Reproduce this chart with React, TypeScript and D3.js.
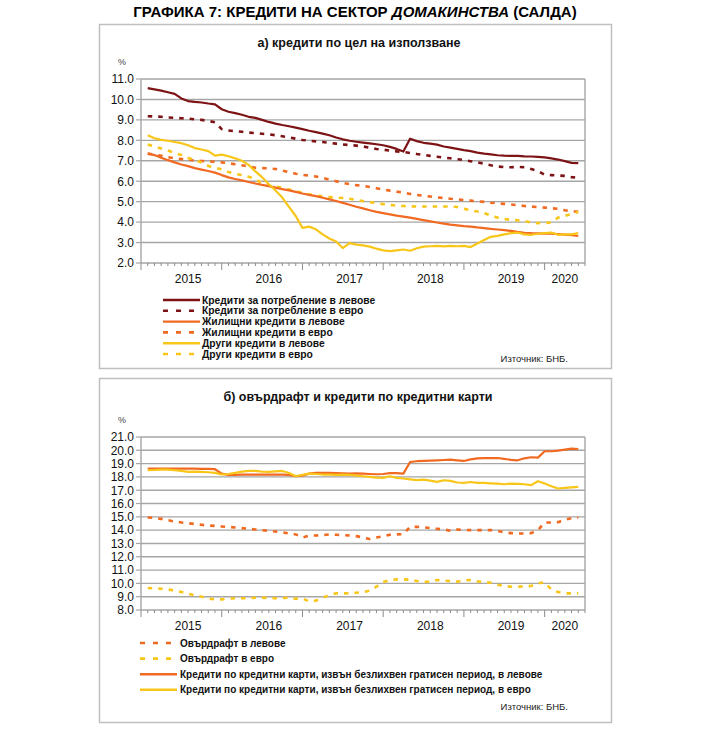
import React from "react";
import * as d3 from "d3";

const years = ["2015", "2016", "2017", "2018", "2019", "2020"];
const monthsOnAxis = 66;

const consumerBgn = [10.55, 10.49, 10.43, 10.35, 10.27, 10.05, 9.92, 9.88, 9.85, 9.80, 9.76, 9.52, 9.40, 9.33, 9.25, 9.15, 9.10, 9.00, 8.90, 8.82, 8.75, 8.69, 8.62, 8.55, 8.47, 8.40, 8.33, 8.25, 8.14, 8.05, 7.98, 7.93, 7.89, 7.85, 7.81, 7.76, 7.68, 7.58, 7.45, 8.08, 7.96, 7.88, 7.84, 7.79, 7.70, 7.64, 7.58, 7.52, 7.47, 7.40, 7.35, 7.31, 7.27, 7.25, 7.24, 7.24, 7.22, 7.21, 7.19, 7.17, 7.12, 7.06, 6.98, 6.90, 6.89];
const consumerEur = [9.18, 9.17, 9.15, 9.12, 9.10, 9.08, 9.06, 9.03, 9.00, 8.95, 8.88, 8.55, 8.48, 8.45, 8.42, 8.38, 8.35, 8.32, 8.29, 8.25, 8.20, 8.15, 8.08, 8.02, 7.98, 7.95, 7.92, 7.88, 7.84, 7.80, 7.77, 7.74, 7.70, 7.64, 7.58, 7.54, 7.50, 7.46, 7.43, 7.38, 7.33, 7.29, 7.24, 7.20, 7.16, 7.12, 7.08, 7.04, 6.98, 6.92, 6.86, 6.78, 6.72, 6.69, 6.68, 6.70, 6.68, 6.60, 6.50, 6.32, 6.30, 6.28, 6.26, 6.20, 6.17];
const housingBgn = [7.35, 7.28, 7.15, 7.03, 6.92, 6.82, 6.74, 6.64, 6.57, 6.50, 6.42, 6.30, 6.19, 6.11, 6.04, 5.96, 5.89, 5.82, 5.76, 5.69, 5.61, 5.55, 5.48, 5.40, 5.33, 5.27, 5.19, 5.11, 5.03, 4.94, 4.85, 4.75, 4.67, 4.58, 4.50, 4.44, 4.38, 4.32, 4.27, 4.22, 4.16, 4.10, 4.04, 3.98, 3.93, 3.88, 3.84, 3.80, 3.78, 3.74, 3.71, 3.67, 3.64, 3.61, 3.57, 3.52, 3.48, 3.46, 3.45, 3.44, 3.43, 3.41, 3.39, 3.36, 3.32];
const housingEur = [7.35, 7.30, 7.25, 7.18, 7.12, 7.08, 7.04, 7.01, 6.99, 6.97, 6.95, 6.92, 6.88, 6.83, 6.78, 6.72, 6.66, 6.64, 6.63, 6.60, 6.52, 6.45, 6.37, 6.31, 6.27, 6.23, 6.16, 6.08, 6.00, 5.92, 5.86, 5.81, 5.77, 5.72, 5.66, 5.59, 5.54, 5.49, 5.45, 5.38, 5.33, 5.29, 5.25, 5.21, 5.18, 5.14, 5.11, 5.08, 5.05, 5.02, 4.99, 4.95, 4.92, 4.89, 4.86, 4.83, 4.79, 4.76, 4.73, 4.71, 4.68, 4.65, 4.58, 4.52, 4.52];
const otherBgn = [8.25, 8.10, 8.02, 7.98, 7.92, 7.86, 7.76, 7.62, 7.55, 7.47, 7.25, 7.30, 7.22, 7.12, 7.00, 6.80, 6.48, 6.20, 5.85, 5.55, 5.20, 4.75, 4.30, 3.72, 3.78, 3.65, 3.40, 3.20, 3.05, 2.73, 2.97, 2.90, 2.86, 2.80, 2.70, 2.62, 2.58, 2.62, 2.66, 2.60, 2.72, 2.80, 2.82, 2.84, 2.81, 2.84, 2.82, 2.84, 2.78, 2.95, 3.12, 3.28, 3.33, 3.40, 3.46, 3.49, 3.40, 3.38, 3.43, 3.46, 3.49, 3.38, 3.40, 3.40, 3.46];
const otherEur = [7.80, 7.70, 7.60, 7.50, 7.38, 7.28, 7.14, 7.04, 6.92, 6.75, 6.66, 6.58, 6.45, 6.36, 6.30, 6.22, 6.10, 5.90, 5.80, 5.74, 5.68, 5.60, 5.52, 5.43, 5.36, 5.30, 5.26, 5.22, 5.20, 5.18, 5.14, 5.09, 5.03, 4.98, 4.93, 4.88, 4.84, 4.81, 4.79, 4.77, 4.76, 4.76, 4.77, 4.76, 4.76, 4.76, 4.74, 4.65, 4.58, 4.52, 4.44, 4.32, 4.22, 4.15, 4.11, 4.09, 4.05, 3.98, 3.95, 3.96, 3.98, 4.22, 4.30, 4.40, 4.50];

const overdraftBgn = [14.95, 14.92, 14.85, 14.75, 14.65, 14.58, 14.52, 14.46, 14.40, 14.35, 14.32, 14.28, 14.24, 14.20, 14.15, 14.10, 14.05, 14.00, 13.95, 13.90, 13.83, 13.76, 13.68, 13.45, 13.58, 13.60, 13.62, 13.68, 13.65, 13.63, 13.60, 13.55, 13.45, 13.33, 13.45, 13.55, 13.66, 13.68, 13.70, 14.25, 14.25, 14.22, 14.15, 14.10, 14.05, 13.96, 14.05, 14.02, 14.00, 14.00, 14.00, 14.00, 13.95, 13.82, 13.78, 13.75, 13.75, 13.78, 14.00, 14.58, 14.58, 14.60, 14.78, 14.90, 14.95];
const overdraftEur = [9.65, 9.63, 9.60, 9.55, 9.45, 9.35, 9.22, 9.10, 9.00, 8.85, 8.80, 8.80, 8.85, 8.88, 8.88, 8.88, 8.92, 8.93, 8.90, 8.88, 8.90, 8.92, 8.85, 8.86, 8.65, 8.70, 8.93, 9.10, 9.25, 9.25, 9.26, 9.30, 9.35, 9.45, 9.75, 10.10, 10.25, 10.30, 10.30, 10.28, 10.18, 10.10, 10.15, 10.25, 10.20, 10.18, 10.13, 10.22, 10.25, 10.15, 10.10, 10.05, 9.90, 9.80, 9.75, 9.75, 9.78, 9.80, 10.00, 10.08, 9.55, 9.35, 9.25, 9.25, 9.25];
const cardsBgn = [18.63, 18.63, 18.63, 18.63, 18.63, 18.62, 18.62, 18.62, 18.60, 18.60, 18.58, 18.25, 18.15, 18.15, 18.18, 18.18, 18.18, 18.18, 18.18, 18.18, 18.18, 18.15, 18.05, 18.10, 18.25, 18.30, 18.30, 18.30, 18.28, 18.26, 18.25, 18.27, 18.25, 18.22, 18.20, 18.22, 18.28, 18.28, 18.25, 19.12, 19.18, 19.20, 19.22, 19.25, 19.27, 19.30, 19.25, 19.20, 19.32, 19.40, 19.42, 19.42, 19.42, 19.35, 19.28, 19.25, 19.40, 19.48, 19.45, 19.93, 19.93, 19.98, 20.05, 20.13, 20.10];
const cardsEur = [18.50, 18.52, 18.55, 18.55, 18.50, 18.45, 18.38, 18.40, 18.38, 18.35, 18.30, 18.18, 18.22, 18.30, 18.40, 18.45, 18.45, 18.40, 18.38, 18.42, 18.45, 18.30, 18.05, 18.15, 18.25, 18.22, 18.18, 18.18, 18.15, 18.18, 18.15, 18.10, 18.05, 18.00, 17.95, 17.93, 18.05, 17.93, 17.88, 17.82, 17.76, 17.80, 17.72, 17.63, 17.75, 17.70, 17.58, 17.55, 17.62, 17.55, 17.55, 17.52, 17.50, 17.45, 17.50, 17.48, 17.45, 17.38, 17.68, 17.50, 17.30, 17.13, 17.18, 17.22, 17.25];

const chartTitle = "ГРАФИКА 7: КРЕДИТИ НА СЕКТОР ";
const chartTitleItalic = "ДОМАКИНСТВА";
const chartTitleEnd = " (САЛДА)";
const titleA = "а) кредити по цел на използване";
const titleB = "б) овърдрафт и кредити по кредитни карти";
const sourceText = "Източник: БНБ.";

const DARK = "#7d1315";
const ORANGE = "#f06a22";
const YELLOW = "#f8c619";

type Series = { name: string; values: number[]; color: string; dashed: boolean };

const seriesA: Series[] = [
  { name: "Кредити за потребление в левове", values: consumerBgn, color: DARK, dashed: false },
  { name: "Кредити за потребление в евро", values: consumerEur, color: DARK, dashed: true },
  { name: "Жилищни кредити в левове", values: housingBgn, color: ORANGE, dashed: false },
  { name: "Жилищни кредити в евро", values: housingEur, color: ORANGE, dashed: true },
  { name: "Други кредити в левове", values: otherBgn, color: YELLOW, dashed: false },
  { name: "Други кредити в евро", values: otherEur, color: YELLOW, dashed: true },
];

const seriesB: Series[] = [
  { name: "Овърдрафт в левове", values: overdraftBgn, color: ORANGE, dashed: true },
  { name: "Овърдрафт в евро", values: overdraftEur, color: YELLOW, dashed: true },
  { name: "Кредити по кредитни карти, извън безлихвен гратисен период, в левове", values: cardsBgn, color: ORANGE, dashed: false },
  { name: "Кредити по кредитни карти, извън безлихвен гратисен период, в евро", values: cardsEur, color: YELLOW, dashed: false },
];

const FONT = "'Liberation Sans', Arial, Helvetica, sans-serif";
const GRID = "#a6a6a6";

const X0 = 141;
const X1 = 585;

type PlotProps = {
  series: Series[];
  yDomain: [number, number];
  yTop: number;
  yBottom: number;
  drawOrder: number[];
};

function Plot({ series, yDomain, yTop, yBottom, drawOrder }: PlotProps) {
  const x = d3.scaleLinear().domain([0, monthsOnAxis]).range([X0, X1]);
  const y = d3.scaleLinear().domain(yDomain).range([yBottom, yTop]);
  const yTicks = d3.range(yDomain[0], yDomain[1] + 0.001, 1);
  const line = d3
    .line<number>()
    .x((_, i) => x(i + 1))
    .y((v) => y(v));
  const minor = d3.range(0, monthsOnAxis + 1);
  return (
    <g>
      {yTicks.map((t) => (
        <g key={t}>
          <line x1={X0} x2={X1} y1={y(t)} y2={y(t)} stroke={GRID} strokeWidth={1.4} />
          <line x1={X0 - 5} x2={X0} y1={y(t)} y2={y(t)} stroke={GRID} strokeWidth={1.2} />
          <text x={X0 - 7} y={y(t)} dy="0.36em" textAnchor="end" fontSize={12} fill="#111" fontFamily={FONT}>
            {t.toFixed(1)}
          </text>
        </g>
      ))}
      <line x1={X0} x2={X0} y1={yTop} y2={yBottom} stroke={GRID} strokeWidth={1.4} />
      <line x1={X1} x2={X1} y1={yTop} y2={yBottom} stroke={GRID} strokeWidth={1.4} />
      {minor.map((m) => (
        <line
          key={m}
          x1={x(m)}
          x2={x(m)}
          y1={yBottom}
          y2={yBottom + (m % 12 === 0 ? 7 : 3)}
          stroke="#8c8c8c"
          strokeWidth={1}
        />
      ))}
      {years.map((yr, i) => {
        const start = i * 12;
        const end = Math.min(start + 12, monthsOnAxis);
        const pos = end - start === 12 ? start + 7 : (start + end) / 2;
        return (
          <text key={yr} x={x(pos)} y={yBottom + 20} textAnchor="middle" fontSize={12} fill="#111" fontFamily={FONT}>
            {yr}
          </text>
        );
      })}
      <text x={X0 - 23} y={yTop - 14} fontSize={9} fill="#444" fontFamily={FONT}>
        %
      </text>
      {drawOrder.map((k) => {
        const s = series[k];
        return (
          <path
            key={s.name}
            d={line(s.values) || ""}
            fill="none"
            stroke={s.color}
            strokeWidth={s.dashed ? 2.6 : 2.2}
            strokeDasharray={s.dashed ? "4.5,6" : undefined}
            strokeLinejoin="round"
          />
        );
      })}
    </g>
  );
}

type LegendProps = { series: Series[]; x0: number; x1: number; tx: number; y0: number; step: number; fs: number };

function Legend({ series, x0, x1, tx, y0, step, fs }: LegendProps) {
  return (
    <g>
      {series.map((s, i) => {
        const yy = y0 + i * step;
        return (
          <g key={s.name}>
            <line
              x1={x0}
              x2={x1}
              y1={yy}
              y2={yy}
              stroke={s.color}
              strokeWidth={s.dashed ? 2.6 : 2.4}
              strokeDasharray={s.dashed ? "5,8" : undefined}
            />
            <text x={tx} y={yy} dy="0.35em" fontSize={fs} fontWeight="bold" fill="#111" fontFamily={FONT}>
              {s.name}
            </text>
          </g>
        );
      })}
    </g>
  );
}

export default function App() {
  return (
    <svg
      width={710}
      height={735}
      viewBox="0 0 710 735"
      style={{ position: "absolute", left: 0, top: 0, background: "#fff" }}
    >
      <rect x={0} y={0} width={710} height={735} fill="#fff" />
      <text x={355} y={17} textAnchor="middle" fontSize={15} fontWeight="bold" fill="#000" fontFamily={FONT}>
        {chartTitle}
        <tspan fontStyle="italic">{chartTitleItalic}</tspan>
        {chartTitleEnd}
      </text>

      <rect x={99.5} y={24.5} width={512} height={344} fill="none" stroke="#bfbfbf" strokeWidth={1.5} />
      <text x={359} y={47} textAnchor="middle" fontSize={12.5} fontWeight="bold" fill="#111" fontFamily={FONT}>
        {titleA}
      </text>
      <Plot series={seriesA} yDomain={[2, 11]} yTop={79} yBottom={263} drawOrder={[3, 5, 1, 2, 4, 0]} />
      <Legend series={seriesA} x0={163} x1={200} tx={202} y0={300} step={10.8} fs={10.3} />
      <text x={568} y={362} textAnchor="end" fontSize={9.5} fill="#222" fontFamily={FONT}>
        {sourceText}
      </text>

      <rect x={99.5} y={378.5} width={512} height={344} fill="none" stroke="#bfbfbf" strokeWidth={1.5} />
      <text x={358} y={401} textAnchor="middle" fontSize={12.5} fontWeight="bold" fill="#111" fontFamily={FONT}>
        {titleB}
      </text>
      <Plot series={seriesB} yDomain={[8, 21]} yTop={437} yBottom={610} drawOrder={[0, 1, 2, 3]} />
      <Legend series={seriesB} x0={140} x1={177} tx={180} y0={643} step={15.6} fs={10} />
      <text x={568} y={710} textAnchor="end" fontSize={9.5} fill="#222" fontFamily={FONT}>
        {sourceText}
      </text>
    </svg>
  );
}
